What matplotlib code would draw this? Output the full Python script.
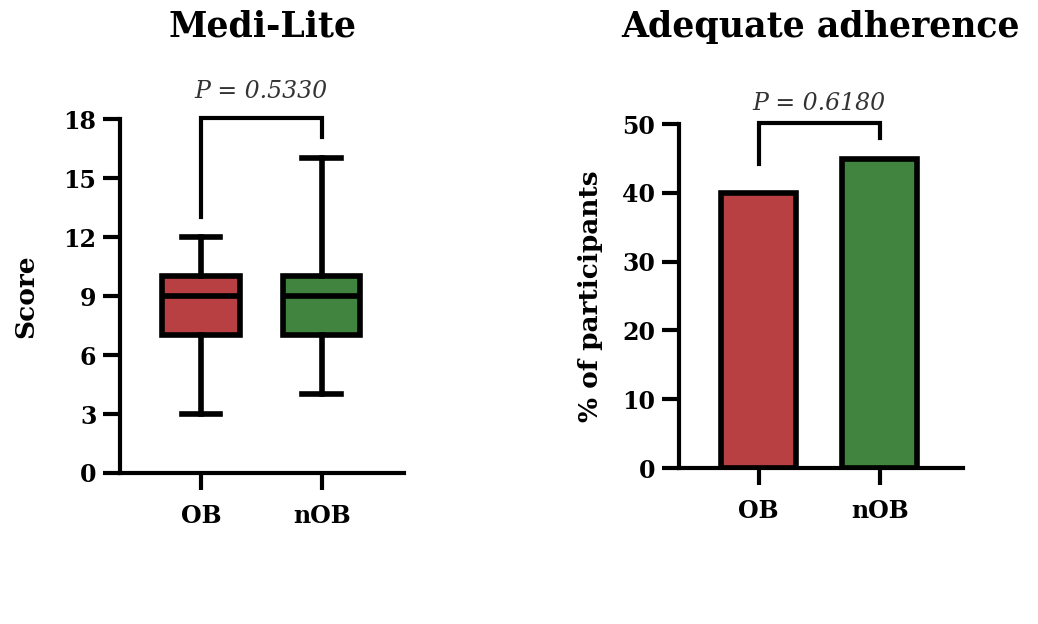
import matplotlib
matplotlib.use('Agg')
import matplotlib.pyplot as plt

# data
groups = ['OB', 'nOB']
box_q1 = [7, 7]
box_med = [9, 9]
box_q3 = [10, 10]
whisk_lo = [3, 4]
whisk_hi = [12, 16]
adherence = [40, 45]
p_score = 'P = 0.5330'
p_adh = 'P = 0.6180'

red = '#b84043'
green = '#40843f'
lw = 3.0

plt.rcParams['font.family'] = ['DejaVu Serif']

fig = plt.figure(figsize=(10.38, 6.24), dpi=100)
ax1 = fig.add_axes([0.1156, 0.242, 0.2736, 0.567])
ax2 = fig.add_axes([0.654, 0.25, 0.274, 0.551])


def style_axis(ax):
    for s in ['top', 'right']:
        ax.spines[s].set_visible(False)
    for s in ['left', 'bottom']:
        ax.spines[s].set_linewidth(lw)
    ax.tick_params(axis='both', direction='out', length=12, width=lw,
                   labelsize=17)
    ax.tick_params(axis='x', pad=10)
    ax.tick_params(axis='y', pad=5)
    for lab in ax.get_xticklabels() + ax.get_yticklabels():
        lab.set_fontweight('bold')


def bracket(ax, y_top, y_left, y_right, text, text_y):
    ax.plot([0, 0, 1, 1], [y_left, y_top, y_top, y_right], color='black',
            lw=lw, clip_on=False, solid_joinstyle='miter')
    ax.text(0.5, text_y, text, ha='center', va='center', fontsize=17,
            style='italic', color='#333333', clip_on=False)


# Medi-Lite box plot
stats = []
for i in range(len(groups)):
    stats.append({'med': box_med[i], 'q1': box_q1[i], 'q3': box_q3[i],
                  'whislo': whisk_lo[i], 'whishi': whisk_hi[i],
                  'label': groups[i]})
bp = ax1.bxp(stats, positions=[0, 1], widths=0.64, patch_artist=True,
             showfliers=False,
             boxprops=dict(linewidth=lw * 1.35, edgecolor='black'),
             medianprops=dict(color='black', linewidth=lw * 1.35),
             whiskerprops=dict(color='black', linewidth=lw * 1.35),
             capprops=dict(color='black', linewidth=lw * 1.35),
             capwidths=0.32)
for patch, c in zip(bp['boxes'], [red, green]):
    patch.set_facecolor(c)
    patch.set_joinstyle('miter')

ax1.set_xlim(-0.67, 1.68)
ax1.set_ylim(0, 18)
ax1.set_yticks([0, 3, 6, 9, 12, 15, 18])
ax1.set_xticks([0, 1])
ax1.set_xticklabels(groups)
ax1.set_ylabel('Score', fontsize=19, fontweight='bold', labelpad=18)
style_axis(ax1)
bracket(ax1, 18.05, 13.0, 17.1, p_score, 19.4)
fig.text(0.253, 0.957, 'Medi-Lite', ha='center', va='center', fontsize=25,
         fontweight='bold')

# Adequate adherence bar chart
ax2.bar([0, 1], adherence, width=0.62, color=[red, green], edgecolor='black',
        linewidth=lw * 1.35)
ax2.set_xlim(-0.66, 1.69)
ax2.set_ylim(0, 50)
ax2.set_yticks([0, 10, 20, 30, 40, 50])
ax2.set_xticks([0, 1])
ax2.set_xticklabels(groups)
ax2.set_ylabel('% of participants', fontsize=19, fontweight='bold',
               labelpad=14)
style_axis(ax2)
bracket(ax2, 50.1, 44.2, 48.0, p_adh, 53.0)
fig.text(0.79, 0.957, 'Adequate adherence', ha='center', va='center',
         fontsize=25, fontweight='bold')

fig.savefig('out.png', dpi=100, facecolor='white')
